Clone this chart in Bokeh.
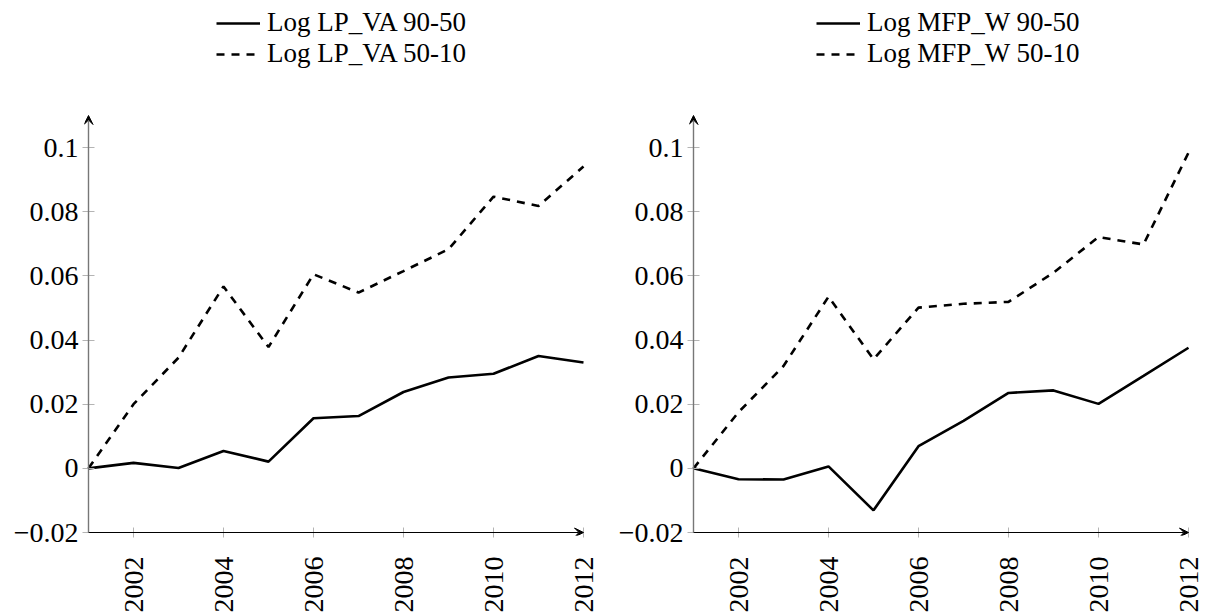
from bokeh.plotting import figure
from bokeh.models import (Range1d, FixedTicker, Legend, LegendItem, Arrow, VeeHead)
from bokeh.layouts import row
from bokeh.embed import file_html
from bokeh.resources import INLINE

years = [2001, 2002, 2003, 2004, 2005, 2006, 2007, 2008, 2009, 2010, 2011, 2012]

lp_va_90_50 = [0.0, 0.0017, 0.0001, 0.0054, 0.0021, 0.0156, 0.0163, 0.0238, 0.0283, 0.0295, 0.0350, 0.0330]
lp_va_50_10 = [0.0, 0.0200, 0.0345, 0.0567, 0.0378, 0.0605, 0.0548, 0.0615, 0.0683, 0.0847, 0.0818, 0.0941]

mfp_w_90_50 = [0.0, -0.0034, -0.0035, 0.0006, -0.0131, 0.0069, 0.0148, 0.0235, 0.0243, 0.0201, 0.0288, 0.0376]
mfp_w_50_10 = [0.0, 0.0175, 0.0319, 0.0535, 0.0340, 0.0501, 0.0513, 0.0519, 0.0610, 0.0721, 0.0698, 0.0984]

x_ticks = [2002, 2004, 2006, 2008, 2010, 2012]
y_ticks = [-0.02, 0.0, 0.02, 0.04, 0.06, 0.08, 0.1]
y_tick_labels = ["\u22120.02", "0", "0.02", "0.04", "0.06", "0.08", "0.1"]

x_min, x_max = 2001, 2012
y_min, y_max = -0.02, 0.11

labels_left = ["Log LP_VA 90-50", "Log LP_VA 50-10"]
labels_right = ["Log MFP_W 90-50", "Log MFP_W 50-10"]

FONT = "Liberation Serif"

# frame geometry (pixels)
PX_X = 45.0            # pixels per year
PX_Y = 417 / 0.13      # pixels per unit
PAD_L, PAD_R = 4, 13
PAD_B, PAD_T = 3, 115
FRAME_W = int(round((x_max - x_min) * PX_X)) + PAD_L + PAD_R
FRAME_H = 417 + PAD_B + PAD_T


def make_panel(s_solid, s_dashed, labels, border_left, border_right, legend_x):
    p = figure(output_backend="svg", toolbar_location=None,
               frame_width=FRAME_W, frame_height=FRAME_H,
               min_border_left=border_left, min_border_right=border_right,
               min_border_top=0, min_border_bottom=60,
               x_range=Range1d(x_min - PAD_L / PX_X, x_max + PAD_R / PX_X),
               y_range=Range1d(y_min - PAD_B / PX_Y, y_max + PAD_T / PX_Y))
    p.outline_line_color = None
    p.grid.visible = False
    p.background_fill_color = "white"
    p.border_fill_color = "white"

    r1 = p.line(years, s_solid, line_color="black", line_width=2.6)
    r2 = p.line(years, s_dashed, line_color="black", line_width=2.6, line_dash="8 7")

    xa = p.xaxis[0]
    xa.ticker = FixedTicker(ticks=x_ticks)
    xa.major_label_orientation = 3.14159265 / 2
    xa.major_label_text_font = FONT
    xa.major_label_text_font_size = "28px"
    xa.major_label_text_color = "black"
    xa.major_label_standoff = 19
    xa.axis_line_color = None
    xa.major_tick_line_color = "#b4b4b4"
    xa.major_tick_in = 8
    xa.major_tick_out = 2
    xa.minor_tick_line_color = None

    ya = p.yaxis[0]
    ya.ticker = FixedTicker(ticks=y_ticks)
    ya.major_label_overrides = {t: l for t, l in zip(y_ticks, y_tick_labels)}
    ya.major_label_text_font = FONT
    ya.major_label_text_font_size = "28px"
    ya.major_label_text_color = "black"
    ya.major_label_standoff = 4
    ya.axis_line_color = None
    ya.major_tick_line_color = "#b4b4b4"
    ya.major_tick_in = 10
    ya.major_tick_out = 2
    ya.minor_tick_line_color = None

    p.add_layout(Arrow(end=VeeHead(size=9, fill_color="black", line_color="black", line_width=1),
                       x_start=x_min, y_start=y_min, x_end=x_max, y_end=y_min,
                       line_color="black", line_width=1.2))
    p.add_layout(Arrow(end=VeeHead(size=9, fill_color="black", line_color="black", line_width=1),
                       x_start=x_min, y_start=y_min, x_end=x_min, y_end=y_max,
                       line_color="#777777", line_width=1.4))

    legend = Legend(items=[LegendItem(label=labels[0], renderers=[r1]),
                           LegendItem(label=labels[1], renderers=[r2])],
                    location=(legend_x, 466))
    legend.border_line_color = None
    legend.background_fill_alpha = 0
    legend.padding = 0
    legend.margin = 0
    legend.spacing = 0
    legend.glyph_width = 44
    legend.glyph_height = 20
    legend.label_standoff = 7
    legend.label_text_font = FONT
    legend.label_text_font_size = "27px"
    legend.label_text_color = "black"
    p.add_layout(legend)
    return p


left = make_panel(lp_va_90_50, lp_va_50_10, labels_left, 84, 8, 132)
right = make_panel(mfp_w_90_50, mfp_w_50_10, labels_right, 85, 4, 127)

layout = row(left, right, spacing=0)

open("out.html", "w").write(file_html(layout, INLINE))
